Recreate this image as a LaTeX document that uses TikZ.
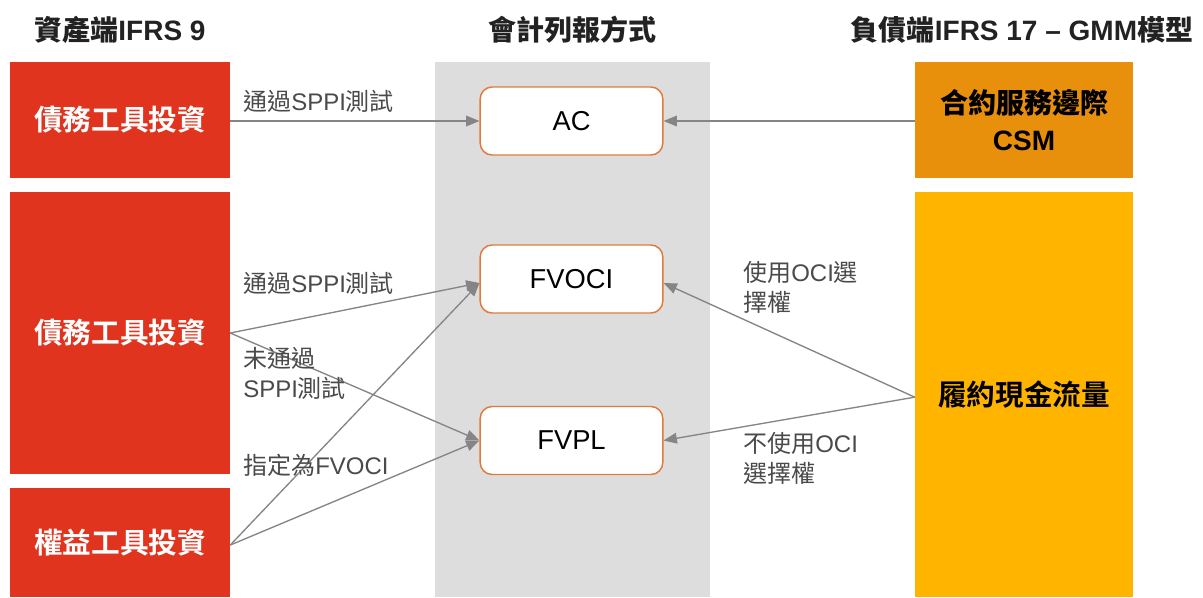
\documentclass[tikz,border=0pt]{standalone}
\usepackage{fontspec}
\setmainfont{Liberation Sans}
\newfontfamily\cjk{Noto Sans CJK TC}
\newfontfamily\cjkb{Noto Sans CJK TC Bold}
\usetikzlibrary{arrows.meta}
\definecolor{redc}{HTML}{E0341F}
\definecolor{csmc}{HTML}{E8900C}
\definecolor{cfc}{HTML}{FFB500}
\definecolor{grayc}{HTML}{DDDDDD}
\definecolor{bordc}{HTML}{E07B39}
\definecolor{arrc}{HTML}{858585}
\definecolor{lblc}{HTML}{4A4A4A}
\definecolor{hdrc}{HTML}{222222}
\tikzset{
  redbox/.style={fill=redc, text=white, minimum width=165pt, inner sep=0pt, font=\fontsize{21.5}{24}\selectfont\cjkb},
  csmbox/.style={fill=csmc, text=black, minimum width=163.5pt, inner sep=0pt, align=center, font=\fontsize{21}{28}\selectfont\bfseries},
  cfbox/.style={fill=cfc, text=black, minimum width=163.5pt, inner sep=0pt, font=\fontsize{21.5}{24}\selectfont\cjkb},
  resbox/.style={draw=bordc, line width=1.1pt, fill=white, rounded corners=9pt, minimum width=137pt, minimum height=51pt, inner sep=0pt, font=\fontsize{20.5}{24}\selectfont},
  hdr/.style={text=hdrc, inner sep=0pt, font=\fontsize{21}{24}\selectfont\bfseries},
  lbl/.style={text=lblc, inner sep=0pt, anchor=west, align=left, font=\fontsize{18}{22.5}\selectfont},
  arr/.style={draw=arrc, line width=1pt, -{Triangle[length=10pt,width=8pt]}},
}
\begin{document}
\begin{tikzpicture}[x=0.75pt,y=-0.75pt]
\useasboundingbox (0,0) rectangle (1203,597);
\fill[white] (0,0) rectangle (1203,597);
% gray column
\fill[grayc] (435,62) rectangle (710,597);
% headers
\node[hdr] (h1) at (120,30) {{\cjkb 資產端}IFRS 9};
\node[hdr] (h2) at (572,30) {\cjkb 會計列報方式};
\node[hdr] (h3) at (1022,30) {{\cjkb 負債端}IFRS 17 – GMM{\cjkb 模型}};
% left boxes
\node[redbox, minimum height=87pt] (d1) at (120,120) {債務工具投資};
\node[redbox, minimum height=211.5pt] (d2) at (120,333) {債務工具投資};
\node[redbox, minimum height=81.75pt] (d3) at (120,542.5) {權益工具投資};
% right boxes
\node[csmbox, minimum height=87pt] (csm) at (1024,120) {{\cjkb 合約服務邊際}\\CSM};
\node[cfbox, minimum height=303.75pt] (cf) at (1024,394.5) {履約現金流量};
% result boxes
\node[resbox] (ac) at (571.5,121) {AC};
\node[resbox] (fvoci) at (571.5,279) {FVOCI};
\node[resbox] (fvpl) at (571.5,440.5) {FVPL};
% arrows
\draw[arr] (ac.west -| d1.east) -- (ac.west);
\draw[arr] (ac.east -| csm.west) -- (ac.east);
\draw[arr] (d2.east) -- ([yshift=-3pt]fvoci.west);
\draw[arr] (d2.east) -- (fvpl.west);
\draw[arr] ([yshift=-1.9pt]d3.east) -- ([yshift=-3pt]fvoci.west);
\draw[arr] ([yshift=-1.9pt]d3.east) -- (fvpl.west);
\draw[arr] ([yshift=-2pt]cf.west) -- ([yshift=-3pt]fvoci.east);
\draw[arr] ([yshift=-2pt]cf.west) -- (fvpl.east);
% labels
\node[lbl] (l1) at (243,101) {{\cjk 通過}SPPI{\cjk 測試}};
\node[lbl] (l2) at (243,283) {{\cjk 通過}SPPI{\cjk 測試}};
\node[lbl] (l3) at (243,373) {{\cjk 未通過}\\SPPI{\cjk 測試}};
\node[lbl] (l4) at (243,465) {{\cjk 指定為}FVOCI};
\node[lbl] (l5) at (743,287) {{\cjk 使用}OCI{\cjk 選}\\{\cjk 擇權}};
\node[lbl] (l6) at (743,458) {{\cjk 不使用}OCI\\{\cjk 選擇權}};
\end{tikzpicture}
\end{document}
